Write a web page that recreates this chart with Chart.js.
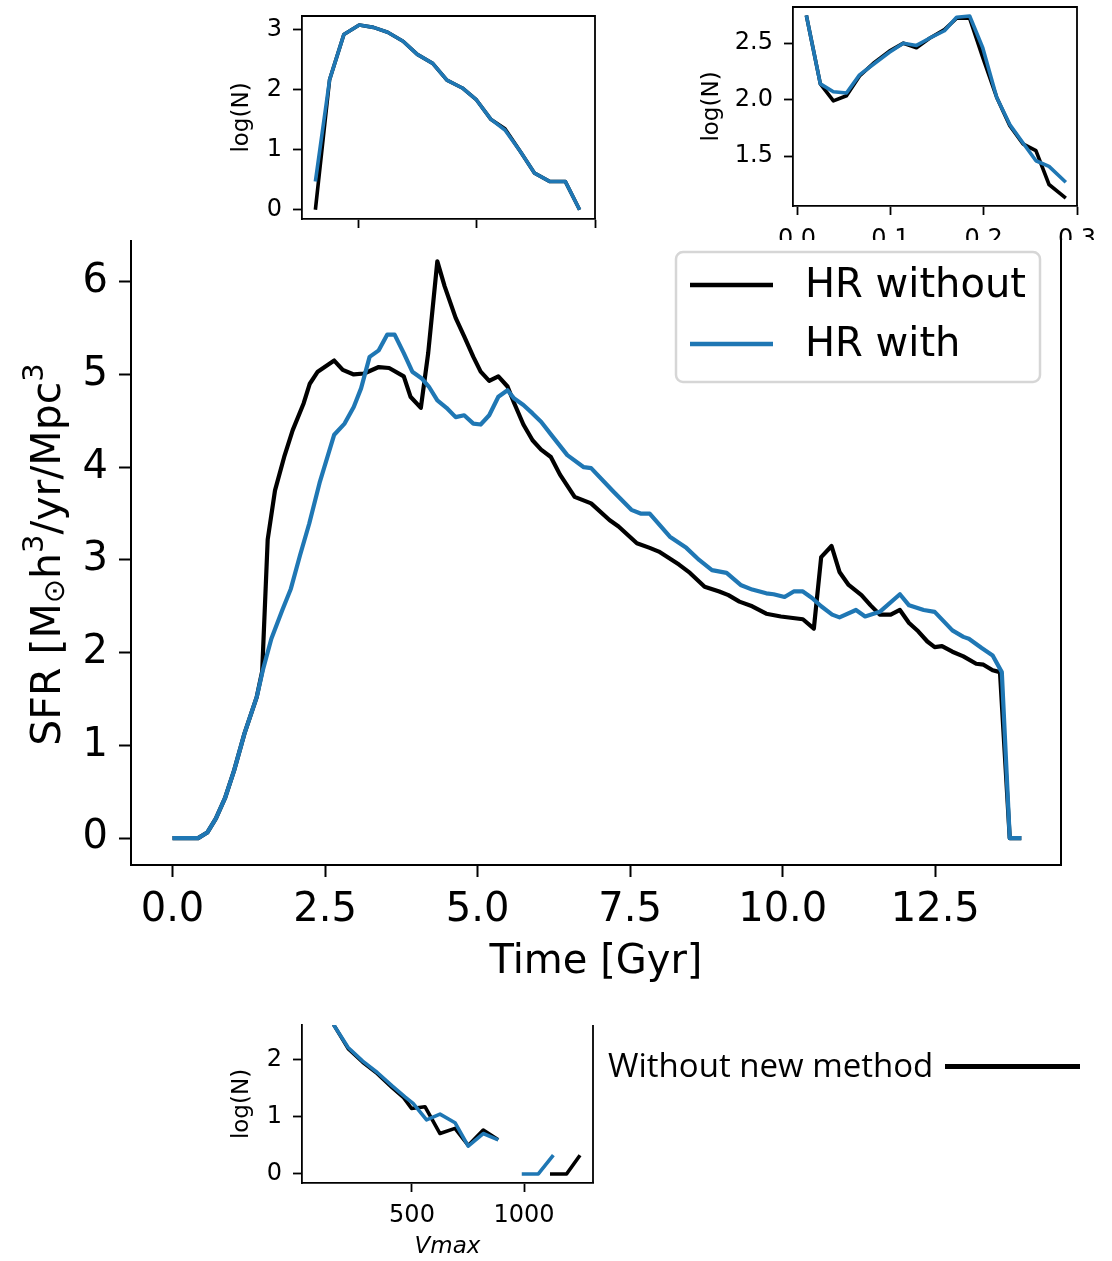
<!DOCTYPE html>
<html>
<head>
<meta charset="utf-8">
<script src="https://cdn.jsdelivr.net/npm/chart.js@4.4.1/dist/chart.umd.min.js"></script>
<style>
  body { margin: 0; background: #fff; }
  #page { position: relative; width: 1112px; height: 1261px; overflow: hidden; }
  canvas { position: absolute; }
  #mainChart { background: #fff; }
  #note { position: absolute; left: 608px; top: 1049px; font-family: 'Open Sans'; font-size: 33px; line-height: 32px; color: #000; white-space: nowrap; }
  #noteLine { position: absolute; left: 945px; top: 1064px; width: 135px; height: 5px; background: #000; }
</style>
</head>
<body>
<div id="page">
  <canvas id="massChart" width="390" height="260" style="left:220px;top:0px"></canvas>
  <canvas id="radiusChart" width="422" height="260" style="left:690px;top:0px"></canvas>
  <canvas id="mainChart" width="1112" height="760" style="left:0px;top:240px"></canvas>
  <canvas id="vmaxChart" width="390" height="246" style="left:220px;top:1015px"></canvas>
  <div id="note">Without new method</div>
  <div id="noteLine"></div>
</div>
<script>
// main panel: star formation rate vs time
const timeWithout = [0, 0.42, 0.57, 0.71, 0.86, 1.01, 1.18, 1.38, 1.47, 1.56, 1.68, 1.83, 1.97, 2.15, 2.25, 2.38, 2.65, 2.79, 2.97, 3.14,
  3.38, 3.55, 3.79, 3.90, 4.07, 4.19, 4.34, 4.46, 4.64, 4.78, 4.93, 5.05, 5.19, 5.34, 5.49, 5.60, 5.75, 5.90, 6.04, 6.20,
  6.35, 6.59, 6.86, 7.16, 7.31, 7.61, 7.82, 7.97, 8.30, 8.48, 8.72, 8.96, 9.11, 9.29, 9.50, 9.73, 9.97, 10.33, 10.51, 10.63,
  10.80, 10.93, 11.08, 11.29, 11.44, 11.59, 11.77, 11.92, 12.07, 12.22, 12.37, 12.49, 12.61, 12.78, 12.96, 13.17, 13.29, 13.44, 13.56, 13.72, 13.91]
const sfrWithout = [0, 0, 0.06, 0.21, 0.43, 0.73, 1.13, 1.52, 1.80, 3.22, 3.75, 4.11, 4.40, 4.69, 4.90, 5.03, 5.15, 5.05, 5.00, 5.01,
  5.08, 5.07, 4.98, 4.76, 4.64, 5.23, 6.22, 5.95, 5.61, 5.41, 5.19, 5.03, 4.93, 4.98, 4.87, 4.69, 4.46, 4.29, 4.19, 4.11,
  3.92, 3.68, 3.61, 3.43, 3.36, 3.18, 3.13, 3.09, 2.95, 2.86, 2.71, 2.66, 2.62, 2.55, 2.50, 2.42, 2.39, 2.36, 2.26, 3.03,
  3.15, 2.87, 2.73, 2.62, 2.51, 2.41, 2.41, 2.46, 2.32, 2.23, 2.12, 2.06, 2.07, 2.01, 1.96, 1.88, 1.87, 1.81, 1.79, 0, 0]
const timeWith = [0, 0.42, 0.57, 0.71, 0.86, 1.01, 1.18, 1.38, 1.48, 1.62, 1.80, 1.94, 2.09, 2.24, 2.41, 2.65, 2.82, 2.97, 3.09, 3.23,
  3.38, 3.52, 3.64, 3.79, 3.93, 4.08, 4.20, 4.34, 4.49, 4.64, 4.78, 4.93, 5.05, 5.19, 5.34, 5.49, 5.60, 5.75, 5.90, 6.04,
  6.23, 6.47, 6.74, 6.86, 7.22, 7.52, 7.67, 7.82, 8.15, 8.42, 8.63, 8.84, 9.08, 9.31, 9.50, 9.73, 9.85, 10.03, 10.18, 10.33,
  10.48, 10.63, 10.81, 10.93, 11.20, 11.35, 11.59, 11.92, 12.07, 12.31, 12.49, 12.78, 12.96, 13.05, 13.26, 13.44, 13.59, 13.72, 13.91]
const sfrWith = [0, 0, 0.06, 0.21, 0.43, 0.73, 1.13, 1.52, 1.81, 2.15, 2.46, 2.69, 3.05, 3.39, 3.83, 4.35, 4.47, 4.65, 4.85, 5.19,
  5.26, 5.43, 5.43, 5.23, 5.03, 4.96, 4.87, 4.72, 4.64, 4.54, 4.56, 4.47, 4.46, 4.56, 4.76, 4.83, 4.74, 4.67, 4.58, 4.49,
  4.33, 4.13, 4.00, 3.99, 3.74, 3.54, 3.50, 3.50, 3.25, 3.13, 3.00, 2.89, 2.86, 2.73, 2.68, 2.64, 2.63, 2.60, 2.66, 2.66,
  2.59, 2.50, 2.41, 2.38, 2.46, 2.39, 2.44, 2.63, 2.51, 2.46, 2.44, 2.24, 2.17, 2.15, 2.05, 1.97, 1.79, 0, 0]
const timeTicks = [0, 2.5, 5, 7.5, 10, 12.5]
const sfrTicks = [0, 1, 2, 3, 4, 5, 6]

// top left inset
const massBins = [9.64, 9.76, 9.88, 10.01, 10.13, 10.25, 10.38, 10.50, 10.63, 10.75, 10.88, 11.00, 11.12, 11.24, 11.37, 11.49, 11.62, 11.75, 11.87]
const massNWithout = [0, 2.17, 2.92, 3.08, 3.04, 2.96, 2.81, 2.59, 2.44, 2.16, 2.03, 1.83, 1.51, 1.35, 0.97, 0.61, 0.47, 0.47, 0]
const massNWith = [0.47, 2.17, 2.92, 3.08, 3.04, 2.96, 2.81, 2.59, 2.44, 2.16, 2.03, 1.83, 1.51, 1.33, 0.97, 0.61, 0.47, 0.47, 0]
const massTicks = [10, 11, 12]
const massNTicks = [0, 1, 2, 3]

// top right inset
const radiusBins = [0.010, 0.025, 0.039, 0.053, 0.067, 0.083, 0.099, 0.114, 0.128, 0.142, 0.158, 0.171, 0.185, 0.199, 0.214, 0.228, 0.242, 0.256, 0.270, 0.288]
const radiusNWithout = [2.745, 2.14, 1.99, 2.035, 2.21, 2.33, 2.43, 2.50, 2.46, 2.544, 2.62, 2.72, 2.72, 2.375, 2.02, 1.77, 1.61, 1.55, 1.25, 1.13]
const radiusNWith = [2.745, 2.14, 2.07, 2.06, 2.22, 2.32, 2.42, 2.50, 2.48, 2.544, 2.61, 2.73, 2.74, 2.46, 2.02, 1.78, 1.62, 1.46, 1.41, 1.27]
const radiusTicks = [0, 0.1, 0.2, 0.3]
const radiusNTicks = [1.5, 2.0, 2.5]

// bottom inset
const vmaxWithout = [150, 215, 280, 345, 410, 460, 498, 558, 625, 692, 751, 818, 885, 1000, 1116, 1190, 1250]
const vmaxNWithout = [2.62, 2.20, 1.96, 1.76, 1.52, 1.35, 1.15, 1.18, 0.71, 0.80, 0.50, 0.77, 0.60, null, 0, 0, 0.33]
const vmaxWith = [150, 215, 280, 345, 410, 470, 505, 565, 625, 692, 751, 818, 885, 940, 990, 1064, 1131]
const vmaxNWith = [2.62, 2.22, 1.98, 1.78, 1.55, 1.35, 1.24, 0.95, 1.05, 0.90, 0.49, 0.71, 0.60, null, 0, 0, 0.33]
const vmaxTicks = [500, 1000]
const vmaxNTicks = [0, 1, 2]

const black = '#000000'
const blue = '#1f77b4'

const sfrTitle = [
  { text: 'SFR [M', size: 41, rise: 0 },
  { text: '⊙', size: 29, rise: -4 },
  { text: 'h', size: 41, rise: 0 },
  { text: '3', size: 29, rise: 17 },
  { text: '/yr/Mpc', size: 41, rise: 0 },
  { text: '3', size: 29, rise: 17 }
]

function pts(xs, ys) {
  return xs.map((x, i) => ({ x: x, y: ys[i] }))
}

function fixed1(v) { return v.toFixed(1) }
function plain(v) { return String(v) }

function makeAxis(o) {
  return {
    type: 'linear',
    min: o.min,
    max: o.max,
    afterBuildTicks: (s) => { s.ticks = o.ticks.map((v) => ({ value: v })) },
    afterFit: (s) => {
      if (o.width) s.width = o.width
      if (o.height) s.height = o.height
      s.paddingTop = 0
      s.paddingBottom = 0
      s.paddingLeft = 0
      s.paddingRight = 0
    },
    grid: { display: true, drawOnChartArea: false, drawTicks: true, tickLength: o.tick, tickWidth: o.line, tickColor: black },
    border: { display: true, color: black, width: o.line },
    ticks: {
      autoSkip: false, maxRotation: 0, minRotation: 0, padding: o.pad, color: o.labelColor || black,
      font: { family: 'DejaVu Sans', size: o.size }, callback: o.fmt
    },
    title: o.title ? {
      display: true, text: o.title, color: black, padding: o.titlePad,
      font: { family: 'DejaVu Sans', size: o.titleSize || o.size, style: o.titleStyle || 'normal' }
    } : { display: false }
  }
}

// right (and top) spines that chart.js does not draw itself
const framePlugin = {
  id: 'frame',
  afterDraw(chart, args, opts) {
    const ctx = chart.ctx
    const a = chart.chartArea
    ctx.save()
    ctx.strokeStyle = black
    ctx.lineWidth = opts.width
    ctx.beginPath()
    ctx.moveTo(a.right, a.bottom)
    ctx.lineTo(a.right, a.top)
    if (opts.top) ctx.lineTo(a.left, a.top)
    ctx.stroke()
    ctx.restore()
  }
}

// y label with sub/superscripts and the boxed legend
const sfrDecor = {
  id: 'sfrDecor',
  afterDraw(chart) {
    const ctx = chart.ctx
    const a = chart.chartArea
    ctx.save()
    ctx.translate(60, (a.top + a.bottom) / 2 + 2)
    ctx.rotate(-Math.PI / 2)
    ctx.fillStyle = black
    ctx.textBaseline = 'alphabetic'
    let total = 0
    for (const p of sfrTitle) {
      ctx.font = p.size + 'px "DejaVu Sans"'
      total += ctx.measureText(p.text).width
    }
    let u = -total / 2
    for (const p of sfrTitle) {
      ctx.font = p.size + 'px "DejaVu Sans"'
      ctx.fillText(p.text, u, -p.rise)
      u += ctx.measureText(p.text).width
    }
    ctx.restore()

    const box = { left: a.right - 385, top: a.top + 12, width: 364, height: 130 }
    ctx.save()
    ctx.beginPath()
    ctx.roundRect(box.left, box.top, box.width, box.height, 7)
    ctx.fillStyle = 'rgba(255,255,255,0.8)'
    ctx.fill()
    ctx.strokeStyle = '#d6d6d6'
    ctx.lineWidth = 2.5
    ctx.stroke()
    ctx.font = '40px "DejaVu Sans"'
    ctx.textBaseline = 'middle'
    chart.data.datasets.forEach((ds, i) => {
      const y = box.top + 33 + i * 59
      ctx.strokeStyle = ds.borderColor
      ctx.lineWidth = 4.5
      ctx.beginPath()
      ctx.moveTo(box.left + 14, y)
      ctx.lineTo(box.left + 97, y)
      ctx.stroke()
      ctx.fillStyle = black
      ctx.fillText(ds.label, box.left + 129, y + 2)
    })
    ctx.restore()
  }
}

function lineSet(label, data, color, width, order) {
  return {
    label: label, data: data, borderColor: color, backgroundColor: color, borderWidth: width,
    pointRadius: 0, tension: 0, borderJoinStyle: 'round', order: order, spanGaps: false
  }
}

function baseOptions(padding, xAxis, yAxis, frame) {
  return {
    responsive: false, animation: false, devicePixelRatio: 1,
    layout: { padding: padding },
    plugins: { legend: { display: false }, tooltip: { enabled: false }, frame: frame },
    scales: { x: xAxis, y: yAxis }
  }
}

new Chart(document.getElementById('mainChart'), {
  type: 'line',
  data: {
    datasets: [
      lineSet('HR without', pts(timeWithout, sfrWithout), black, 4.2, 1),
      lineSet('HR with', pts(timeWith, sfrWith), blue, 4.2, 0)
    ]
  },
  options: baseOptions(
    { left: 0, top: 0, right: 51, bottom: 0 },
    makeAxis({ min: -0.68, max: 14.56, ticks: timeTicks, fmt: fixed1, height: 135, tick: 12, line: 2, pad: 10, size: 40,
      title: 'Time [Gyr]', titlePad: { top: 0, bottom: 13 } }),
    makeAxis({ min: -0.29, max: 6.45, ticks: sfrTicks, fmt: plain, width: 131, tick: 12, line: 2, pad: 11, size: 40 }),
    { width: 2, top: false }
  ),
  plugins: [framePlugin, sfrDecor]
})

new Chart(document.getElementById('massChart'), {
  type: 'line',
  data: {
    datasets: [
      lineSet('HR without', pts(massBins, massNWithout), black, 3.6, 1),
      lineSet('HR with', pts(massBins, massNWith), blue, 3.6, 0)
    ]
  },
  options: baseOptions(
    { left: 0, top: 16, right: 15, bottom: 0 },
    makeAxis({ min: 9.527, max: 12, ticks: massTicks, fmt: plain, height: 41, tick: 9, line: 1.8, pad: 10, size: 24, labelColor: 'rgba(0,0,0,0)' }),
    makeAxis({ min: -0.154, max: 3.23, ticks: massNTicks, fmt: plain, width: 82, tick: 9, line: 1.8, pad: 11, size: 24,
      title: 'log(N)', titleSize: 23, titlePad: { top: 8, bottom: 0 } }),
    { width: 1.8, top: true }
  ),
  plugins: [framePlugin]
})

new Chart(document.getElementById('radiusChart'), {
  type: 'line',
  data: {
    datasets: [
      lineSet('HR without', pts(radiusBins, radiusNWithout), black, 3.6, 1),
      lineSet('HR with', pts(radiusBins, radiusNWith), blue, 3.6, 0)
    ]
  },
  options: baseOptions(
    { left: 0, top: 7, right: 35, bottom: 0 },
    makeAxis({ min: -0.0043, max: 0.3, ticks: radiusTicks, fmt: fixed1, height: 54, tick: 9, line: 1.8, pad: 10, size: 24 }),
    makeAxis({ min: 1.06, max: 2.82, ticks: radiusNTicks, fmt: fixed1, width: 103, tick: 9, line: 1.8, pad: 11, size: 24,
      title: 'log(N)', titleSize: 23, titlePad: { top: 8, bottom: 0 } }),
    { width: 1.8, top: true }
  ),
  plugins: [framePlugin]
})

new Chart(document.getElementById('vmaxChart'), {
  type: 'line',
  data: {
    datasets: [
      lineSet('HR without', pts(vmaxWithout, vmaxNWithout), black, 3.6, 1),
      lineSet('HR with', pts(vmaxWith, vmaxNWith), blue, 3.6, 0)
    ]
  },
  options: baseOptions(
    { left: 0, top: 10, right: 17, bottom: 0 },
    makeAxis({ min: 9, max: 1308, ticks: vmaxTicks, fmt: plain, height: 78, tick: 9, line: 1.8, pad: 9, size: 24,
      title: 'Vmax', titleSize: 23, titleStyle: 'italic', titlePad: { top: 0, bottom: 0 } }),
    makeAxis({ min: -0.158, max: 2.614, ticks: vmaxNTicks, fmt: plain, width: 82, tick: 9, line: 1.8, pad: 11, size: 24,
      title: 'log(N)', titleSize: 23, titlePad: { top: 8, bottom: 0 } }),
    { width: 1.8, top: false }
  ),
  plugins: [framePlugin]
})
</script>
</body>
</html>
